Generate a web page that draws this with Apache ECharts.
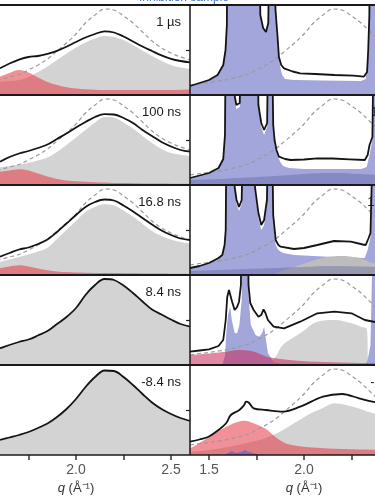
<!DOCTYPE html>
<html><head><meta charset="utf-8">
<script src="https://cdn.jsdelivr.net/npm/echarts@6/dist/echarts.min.js"></script>
<style>html,body{margin:0;padding:0;background:#fff}#c{width:375px;height:500px}</style>
</head><body><div id="c"></div>
<script>
// ---------- data (heights in panel units, 0..90) ----------
const delays = ['1 µs', '100 ns', '16.8 ns', '8.4 ns', '-8.4 ns'];
const tickLabelValues = [1.5, 2.0, 2.5];
const tickValues = [1.5, 1.75, 2.0, 2.25, 2.5];

const qRef = [1.40,1.45,1.50,1.55,1.60,1.65,1.70,1.75,1.80,1.85,1.90,1.95,2.00,2.05,2.10,2.15,2.20,2.25,2.30,2.35,2.40,2.45,2.50,2.55,2.60];
const refCurve = [10,11.5,12.5,14,15.5,18,20.5,25,30,36,44,52,61,72,80,86,85,79,72,63,54,47,42,38,35];

const qL = [1.60,1.65,1.70,1.75,1.80,1.85,1.90,1.95,2.00,2.05,2.10,2.15,2.20,2.25,2.30,2.35,2.40,2.45,2.50,2.55,2.60];
// left column (sample A)
const blackL1 = [26.7,31.5,35.4,38,39,41.2,44.2,48.3,53,57.5,61,63.7,62.5,58.5,53.5,48.5,44,39.7,36.2,34,32.7];
const grayL1  = [13.3,14,15,18,23,28.5,35,41.5,47.5,52.5,56.5,59,58,55,50,44.5,39,34,30,27.5,26];
const redL1   = [18.3,22,25,22.5,17.5,13,10,7.7,6.5,5.7,5.2,5,5,5,5,5,5,5,5,5.2,5.5];
const blackL2 = [23.3,28,31.5,34,37,40.5,46,51.5,57.5,63,68,70.8,70.5,67,62,55,49,43,38.5,35,33.3];
const grayL2  = [17.7,19,20.3,22.3,24.5,27.5,33,40,47.5,55,62.5,68,67.5,62.5,56.5,49,42,36,32,30.3,29];
const redL2   = [13.3,14.5,15.7,14.5,11.5,8.5,6,4.5,3.8,3.2,2.8,2.4,2.1,1.9,1.7,1.6,1.5,1.4,1.3,1.2,1.1];
const blackL3 = [18.3,22,25.5,27.5,31,35.5,43,51.5,60,68,73,75.5,74.5,69.5,63.5,57,50.5,44.5,40,36.5,35];
const grayL3  = [13.3,15.5,18,20.5,23.5,27.3,36,45,54,63,68,70.7,69.5,64.5,58.5,51,44,39,35.5,33,31.7];
const redL3   = [6.7,8.5,9.8,8.5,6.5,4.8,3.6,2.9,2.5,2.3,2.1,2,1.9,1.8,1.7,1.6,1.5,1.4,1.3,1.2,1];
const blackL4 = [16.7,20,23,25.5,29.5,34,41,48,57,70,80,86,85,79.5,72,63.5,55.5,50.5,45.5,41,38.3];
const grayL4  = [15.7,19,22,24.5,28.5,33,40,47,56,69,79,85,84,78.5,71,62.5,54.5,49.5,44.5,40,37.3];
const blackL5 = [15,17.5,20,23,27,31.5,38,46,56,68,78,84.5,84,78,70,61,52.5,46,41,37,34];
const grayL5  = [14.5,17,19.5,22.5,26.5,31,37.5,45.5,55.5,67.5,77.5,84,83.5,77.5,69.5,60.5,52,45.5,40.5,36.5,33.5];

// right column (sample B) – [q, height] pairs, peaks above 90 run off the panel
const blackR1 = [[1.40,9],[1.45,12],[1.50,15],[1.545,20],[1.575,30],[1.587,45],[1.594,70],[1.598,200],[1.764,200],[1.770,80],[1.785,67],[1.800,63],[1.812,72],[1.820,200],[1.843,200],[1.850,85],[1.860,60],[1.868,38],[1.880,30],[1.895,26.7],[1.94,23.5],[1.98,21.7],[2.06,21],[2.16,20],[2.26,19.3],[2.315,18.3],[2.332,23],[2.338,45],[2.344,80],[2.348,200],[2.45,200]];
const blueR1  = [[1.40,9],[1.45,12],[1.50,15],[1.545,20],[1.575,30],[1.587,45],[1.594,70],[1.598,200],[1.764,200],[1.770,80],[1.785,67],[1.800,63],[1.812,72],[1.820,200],[1.843,200],[1.850,80],[1.860,50],[1.875,28],[1.885,20],[1.90,16],[1.95,15],[2.1,14.5],[2.3,14],[2.325,16],[2.335,35],[2.342,70],[2.346,200],[2.45,200]];
const blackR2 = [[1.40,7],[1.45,9.5],[1.50,12],[1.55,17],[1.575,26],[1.584,50],[1.590,200],[1.630,200],[1.636,88],[1.644,80],[1.652,78],[1.662,82],[1.670,200],[1.752,200],[1.760,80],[1.775,62],[1.790,55],[1.798,53],[1.806,62],[1.814,200],[1.828,200],[1.838,60],[1.845,45],[1.855,35],[1.868,28.3],[1.90,26],[1.93,25],[2.00,25.5],[2.07,26.7],[2.15,26.5],[2.24,25.7],[2.32,25],[2.335,30],[2.345,40],[2.36,48],[2.37,200],[2.45,200]];
const blueR2  = [[1.40,7],[1.45,9.5],[1.50,12],[1.55,17],[1.575,26],[1.584,50],[1.590,200],[1.630,200],[1.636,86],[1.644,76],[1.652,74],[1.662,78],[1.670,200],[1.752,200],[1.760,76],[1.775,58],[1.790,50],[1.798,48],[1.806,58],[1.814,200],[1.828,200],[1.838,55],[1.845,40],[1.86,30],[1.875,23],[1.89,19],[1.92,17],[2.0,16],[2.2,16],[2.3,16],[2.33,18],[2.345,30],[2.36,45],[2.37,200],[2.45,200]];
const darkR2  = [[1.40,5],[1.55,6],[1.70,7.5],[1.85,9],[2.00,11],[2.15,12],[2.30,11],[2.45,9.5]];
const blackR3 = [[1.40,7],[1.45,9],[1.50,12],[1.55,17],[1.57,20],[1.582,30],[1.588,45],[1.594,200],[1.630,200],[1.635,88],[1.645,75],[1.658,68],[1.672,75],[1.684,200],[1.735,200],[1.742,88],[1.760,62],[1.775,50],[1.781,48],[1.790,55],[1.805,75],[1.815,200],[1.828,200],[1.838,60],[1.851,35],[1.865,30],[1.877,28.3],[1.947,26],[2.00,27],[2.07,30],[2.158,34],[2.246,33.3],[2.31,30.5],[2.325,30],[2.338,36],[2.35,42],[2.36,44],[2.37,200],[2.45,200]];
const blueR3  = [[1.40,7],[1.45,9],[1.50,12],[1.55,17],[1.57,20],[1.582,30],[1.588,45],[1.594,200],[1.630,200],[1.635,86],[1.645,71],[1.658,64],[1.672,71],[1.684,200],[1.735,200],[1.742,84],[1.760,57],[1.775,45],[1.781,43],[1.790,50],[1.805,72],[1.815,200],[1.828,200],[1.838,55],[1.851,30],[1.865,25],[1.89,22],[1.95,20],[2.05,19],[2.15,18],[2.25,17.5],[2.32,17],[2.335,25],[2.35,38],[2.37,200],[2.45,200]];
const grayR3  = [[1.85,2],[1.95,8],[2.05,14.5],[2.12,18],[2.2,19],[2.28,17.5],[2.32,15],[2.36,12],[2.45,10]];
const darkR3  = [[1.40,4],[1.55,5],[1.70,6],[1.85,7],[2.00,8],[2.15,9],[2.30,8.5],[2.45,8]];
const blackR4 = [[1.40,13.3],[1.45,14.5],[1.50,15.7],[1.55,19],[1.575,25],[1.588,45],[1.596,68],[1.605,75],[1.613,73.3],[1.622,63],[1.635,55],[1.648,58],[1.658,63.3],[1.668,80],[1.675,200],[1.700,200],[1.708,80],[1.717,62],[1.735,55],[1.76,48.3],[1.775,50],[1.787,55.7],[1.797,52],[1.81,45],[1.84,38.3],[1.895,36.7],[1.98,43.3],[2.07,51.7],[2.16,53.3],[2.25,51.7],[2.32,45],[2.40,42]];
const blueR4  = [[1.40,0],[1.57,0],[1.585,10],[1.59,30],[1.60,50],[1.612,58],[1.62,45],[1.635,32],[1.648,31.7],[1.66,40],[1.672,65],[1.68,200],[1.70,200],[1.708,70],[1.72,40],[1.745,30],[1.765,28.3],[1.78,32],[1.79,38.3],[1.80,25],[1.81,12],[1.84,3],[1.9,0],[2.32,0],[2.335,5],[2.35,20],[2.37,200],[2.45,200]];
const grayR4  = [[1.80,0],[1.85,8],[1.875,16.7],[1.90,22],[1.98,31.7],[2.07,43.3],[2.16,45],[2.25,41.7],[2.30,38.3],[2.33,36],[2.34,5],[2.45,5]];
const redR4   = [[1.40,10],[1.50,11.5],[1.60,13.5],[1.65,15],[1.70,14.5],[1.75,12.5],[1.80,8.5],[1.85,6.7],[1.95,4.5],[2.1,3],[2.3,2],[2.45,1.7]];
const blackR5 = [[1.40,13.3],[1.45,15.5],[1.50,18.5],[1.55,25],[1.59,31.7],[1.615,40],[1.66,45],[1.685,50],[1.695,53.3],[1.71,52.3],[1.735,46.7],[1.80,45],[1.89,43.3],[1.98,48.3],[2.10,58.3],[2.20,61],[2.29,56.7],[2.36,53.3],[2.45,51]];
const grayR5  = [[1.40,3],[1.50,5],[1.60,8],[1.70,12],[1.80,17],[1.88,24],[1.95,32],[2.02,40],[2.10,47],[2.16,51.7],[2.22,50],[2.28,47],[2.35,42.5],[2.45,38]];
const redR5   = [[1.40,6.7],[1.45,12],[1.50,18],[1.55,24],[1.60,29],[1.65,33],[1.69,34.3],[1.73,32],[1.80,26],[1.85,18],[1.90,12],[1.95,9.5],[2.05,7.5],[2.2,6],[2.45,5]];
const blueR5  = [[1.40,0],[1.58,0],[1.60,2],[1.62,4],[1.64,2],[1.67,3],[1.69,5],[1.71,3],[1.75,1],[1.8,0],[2.45,0]];

// ---------- chart ----------
const GRAY = '#d3d3d3', RED = 'rgba(232,52,68,0.55)', BLUE = '#a2a6da', DARK = 'rgba(80,86,150,0.35)';
const LINE = '#141414', LW = 1.8;
const zip = (xs, ys) => xs.map((x, i) => [x, ys[i]]);
const ROW_TOP = 5, ROW_H = 90, COL_W = 228;
const grids = [], xAxes = [], yAxes = [], series = [];
for (let r = 0; r < 5; r++) {
  for (let c = 0; c < 2; c++) {
    const last = r === 4;
    grids.push({ left: c === 0 ? -38 : 190, width: COL_W, top: ROW_TOP + ROW_H * r, height: ROW_H, outerBoundsMode: 'none', containLabel: false });
    xAxes.push({
      type: 'value', gridIndex: grids.length - 1, min: 1.4, max: 2.6,
      axisLine: { show: false }, splitLine: { show: false },
      axisTick: { show: last, customValues: tickValues, inside: false, length: 5, lineStyle: { color: '#333', width: 1.5 } },
      axisLabel: { show: last, customValues: tickLabelValues, margin: 8, color: '#555', fontSize: 14, fontFamily: 'Liberation Sans, Arial, sans-serif', formatter: v => v.toFixed(1) },
      name: last ? '{i|q} (Å⁻¹)' : '', nameLocation: 'middle', nameGap: 27,
      nameTextStyle: { color: '#333', fontSize: 13, fontFamily: 'Liberation Sans, Arial, sans-serif', rich: { i: { fontStyle: 'italic', fontSize: 13, color: '#333', fontFamily: 'Liberation Sans, Arial, sans-serif' } } }
    });
    yAxes.push({
      type: 'value', gridIndex: grids.length - 1, min: 0, max: 90,
      axisLine: { show: false }, splitLine: { show: false }, axisLabel: { show: false },
      axisTick: { show: c === 1, customValues: [45], inside: false, length: 4, lineStyle: { color: '#222', width: 1.2 } }
    });
  }
}
function fill(gi, data, color, smooth) {
  series.push({ type: 'line', xAxisIndex: gi, yAxisIndex: gi, data, symbol: 'none', smooth: smooth ? 0.35 : false,
    lineStyle: { width: 0 }, areaStyle: { color, opacity: 1 }, silent: true });
}
function curve(gi, data, color, width, dashed, smooth) {
  series.push({ type: 'line', xAxisIndex: gi, yAxisIndex: gi, data, symbol: 'none', smooth: smooth ? 0.35 : false,
    lineStyle: { color, width, type: dashed ? [4, 3] : 'solid' }, silent: true });
}
const ref = zip(qRef, refCurve);
// left column
const leftRows = [[blackL1, grayL1, redL1, true], [blackL2, grayL2, redL2, true], [blackL3, grayL3, redL3, true], [blackL4, grayL4, null, false], [blackL5, grayL5, null, false]];
leftRows.forEach(([b, g, rd, dash], r) => {
  const gi = 2 * r;
  fill(gi, zip(qL, g), GRAY, true);
  if (rd) fill(gi, zip(qL, rd), RED, true);
  if (dash) curve(gi, ref, '#9a9a9a', 1.2, true, true);
  curve(gi, zip(qL, b), LINE, LW, false, true);
});
// right column
fill(1, blueR1, BLUE, false);
curve(1, ref, '#9a9a9a', 1.2, true, true);
curve(1, blackR1, LINE, LW, false, false);

fill(3, blueR2, BLUE, false);
fill(3, darkR2, DARK, true);
curve(3, ref, '#9a9a9a', 1.2, true, true);
curve(3, blackR2, LINE, LW, false, false);

fill(5, blueR3, BLUE, false);
fill(5, grayR3, '#bdbdbd', true);
fill(5, darkR3, DARK, true);
curve(5, ref, '#9a9a9a', 1.2, true, true);
curve(5, blackR3, LINE, LW, false, false);

fill(7, grayR4, GRAY, true);
fill(7, blueR4, BLUE, false);
fill(7, redR4, 'rgba(200,40,90,0.55)', true);
curve(7, ref, '#9a9a9a', 1.2, true, true);
curve(7, blackR4, LINE, LW, false, false);

fill(9, grayR5, GRAY, true);
fill(9, redR5, RED, true);
fill(9, blueR5, 'rgba(110,100,200,0.8)', false);
curve(9, ref, '#9a9a9a', 1.2, true, true);
curve(9, blackR5, LINE, LW, false, true);

// frame lines and panel labels
const graphic = [];
for (let r = 0; r <= 5; r++) {
  graphic.push({ type: 'line', z: 100, shape: { x1: 0, y1: ROW_TOP + ROW_H * r, x2: 375, y2: ROW_TOP + ROW_H * r }, style: { stroke: '#1a1a1a', lineWidth: r === 5 ? 1.6 : 2 } });
}
graphic.push({ type: 'line', z: 100, shape: { x1: 190, y1: ROW_TOP, x2: 190, y2: ROW_TOP + ROW_H * 5 }, style: { stroke: '#1a1a1a', lineWidth: 1.5 } });
delays.forEach((t, r) => {
  [181, 410].forEach(x => graphic.push({ type: 'text', z: 101, x, y: ROW_TOP + ROW_H * r + 17,
    style: { text: t, fill: '#1a1a1a', font: '13px "Liberation Sans", Arial, sans-serif', textAlign: 'right', textVerticalAlign: 'middle' } }));
});
graphic.push({ type: 'text', z: 101, x: 229, y: 4, style: { text: 'Inhibition sample', fill: '#3f6fd0', font: '12px "Liberation Sans", Arial, sans-serif', textAlign: 'right', textVerticalAlign: 'bottom' } });

const chart = echarts.init(document.getElementById('c'), null, { renderer: 'canvas' });
chart.setOption({ animation: false, grid: grids, xAxis: xAxes, yAxis: yAxes, series, graphic });
</script>
</body></html>
